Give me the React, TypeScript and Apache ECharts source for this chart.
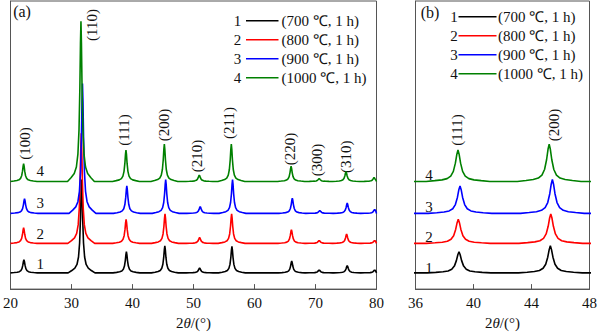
import React, { useEffect, useRef } from 'react';
import * as echarts from 'echarts';

const FONT = "'Liberation Serif', 'Times New Roman', serif";

// sample numbers and legend texts
const sampleNumbers = ['1', '2', '3', '4'];
const sampleLabels = ['(700 ℃, 1 h)', '(800 ℃, 1 h)', '(900 ℃, 1 h)', '(1000 ℃, 1 h)'];
const sampleColors = ['#000000', '#ff0000', '#0000ff', '#008000'];

// vertical offset of each pattern (a.u.)
const baselines = [16.5, 46.5, 77, 109.5];

// reflections
const hklLabels = ['(100)', '(110)', '(111)', '(200)', '(210)', '(211)', '(220)', '(300)', '(310)', ''];

// peak positions (2θ, °) per sample
const peakPos1 = [22.2, 31.65, 39.0, 45.3, 51.0, 56.3, 66.1, 70.6, 75.2, 79.7];
const peakPos2 = [22.15, 31.6, 38.95, 45.33, 51.0, 56.25, 66.05, 70.6, 75.1, 79.7];
const peakPos3 = [22.3, 31.8, 39.07, 45.44, 51.1, 56.4, 66.2, 70.7, 75.2, 79.7];
const peakPos4 = [22.15, 31.55, 38.93, 45.22, 50.95, 56.2, 66.0, 70.6, 75.0, 79.6];

// peak heights above baseline (a.u.) per sample
const peakH1 = [13.5, 95, 21.5, 27.5, 5, 27, 12, 3, 7.5, 3];
const peakH2 = [16, 112, 24.5, 30, 6, 30, 14, 3, 9.5, 3];
const peakH3 = [15, 132, 28, 34.5, 7, 34.5, 15.5, 3, 10.5, 4];
const peakH4 = [18, 163, 32, 38, 6.5, 38, 15.5, 3, 10, 4];

// measured line profile shape: offset from peak centre (°) and relative height
const profileOffset = [-2.2, -1.6, -1.1, -0.75, -0.5, -0.32, -0.18, -0.08, 0, 0.08, 0.18, 0.32, 0.5, 0.75, 1.1, 1.6, 2.2];
const profileFrac = [0, 0.025, 0.05, 0.09, 0.17, 0.32, 0.58, 0.86, 1, 0.86, 0.58, 0.32, 0.17, 0.09, 0.05, 0.025, 0];

const peakPositions = [peakPos1, peakPos2, peakPos3, peakPos4];
const peakHeights = [peakH1, peakH2, peakH3, peakH4];

function buildPattern(i: number): number[][] {
  const base = baselines[i];
  const pts: number[][] = [[20, base]];
  peakPositions[i].forEach((p, k) => {
    const h = peakHeights[i][k];
    profileOffset.forEach((o, j) => {
      const x = p + o;
      if (x > 20 && x < 80) pts.push([x, base + h * profileFrac[j]]);
    });
  });
  pts.push([80, base]);
  return pts;
}

export default function App() {
  const ref = useRef<HTMLDivElement>(null);
  useEffect(() => {
    if (!ref.current) return;
    const chart = echarts.init(ref.current, undefined, { renderer: 'svg' });
    const axisColor = '#555';
    const nameRich = {
      it: { fontStyle: 'italic', fontFamily: FONT, fontSize: 15, color: '#111' },
    };
    const makeX = (grid: number, min: number, max: number, interval: number) => ({
      type: 'value',
      gridIndex: grid,
      min,
      max,
      interval,
      axisLine: { show: true, lineStyle: { color: axisColor, width: 1 } },
      axisTick: { show: true, inside: true, length: 5, lineStyle: { color: axisColor } },
      axisLabel: { fontFamily: FONT, fontSize: 15, color: '#111', margin: 6 },
      splitLine: { show: false },
      name: '2{it|θ}/(°)',
      nameLocation: 'middle',
      nameGap: 23,
      nameTextStyle: { fontFamily: FONT, fontSize: 15, color: '#111', rich: nameRich },
    });
    const makeY = (grid: number) => ({
      type: 'value',
      gridIndex: grid,
      min: 0,
      max: 293,
      axisLine: { show: true, lineStyle: { color: axisColor, width: 1 } },
      axisTick: { show: false },
      axisLabel: { show: false },
      splitLine: { show: false },
    });

    const series: any[] = [];
    [0, 1].forEach((g) => {
      sampleNumbers.forEach((n, i) => {
        series.push({
          type: 'line',
          name: n,
          xAxisIndex: g,
          yAxisIndex: g,
          data: buildPattern(i),
          showSymbol: false,
          symbol: 'none',
          clip: true,
          lineStyle: { color: sampleColors[i], width: 1.6 },
          itemStyle: { color: sampleColors[i] },
        });
      });
    });

    const textStyle = (text: string, size = 15) => ({
      text,
      fontFamily: FONT,
      fontSize: size,
      fill: '#111',
      align: 'center',
      verticalAlign: 'middle',
    });

    const graphic: any[] = [];
    // panel tags
    graphic.push({ type: 'text', x: 22, y: 11, style: textStyle('(a)', 16) });
    graphic.push({ type: 'text', x: 430, y: 12.5, style: textStyle('(b)', 16) });

    // hkl labels (panel a)
    const hklA = [
      [25, 143.5], [91.7, 25], [124, 130], [164.3, 125], [196.7, 156], [229.3, 123], [290, 149], [317.3, 160], [346, 156.7],
    ];
    hklA.forEach((p, k) => {
      graphic.push({ type: 'text', x: p[0], y: p[1], rotation: Math.PI / 2, style: textStyle(hklLabels[k]) });
    });
    // hkl labels (panel b)
    graphic.push({ type: 'text', x: 457.3, y: 130, rotation: Math.PI / 2, style: textStyle(hklLabels[2]) });
    graphic.push({ type: 'text', x: 554, y: 125, rotation: Math.PI / 2, style: textStyle(hklLabels[3]) });

    // sample numbers next to patterns
    const numYA = [264, 234, 203, 170.7];
    const numYB = [268.3, 237.3, 207.3, 175];
    sampleNumbers.forEach((n, i) => {
      graphic.push({ type: 'text', x: 40.3, y: numYA[i], style: textStyle(n) });
      graphic.push({ type: 'text', x: 429, y: numYB[i], style: textStyle(n) });
    });

    // legends
    const legends = [
      { numX: 237.5, x1: 246, x2: 278.5, tx: 281.5, y0: 20.7 },
      { numX: 454, x1: 458.5, x2: 496.5, tx: 498, y0: 16.7 },
    ];
    legends.forEach((L) => {
      sampleNumbers.forEach((n, i) => {
        const y = L.y0 + i * 19;
        graphic.push({ type: 'text', x: L.numX, y, style: textStyle(n) });
        graphic.push({
          type: 'line',
          shape: { x1: L.x1, y1: y, x2: L.x2, y2: y },
          style: { stroke: sampleColors[i], lineWidth: 1.6 },
        });
        graphic.push({
          type: 'text',
          x: L.tx,
          y,
          style: { ...textStyle(sampleLabels[i]), align: 'left' },
        });
      });
    });

    chart.setOption({
      animation: false,
      backgroundColor: '#ffffff',
      textStyle: { fontFamily: FONT },
      grid: [
        { left: 8, top: 1, width: 368.5, height: 293, show: true, borderColor: axisColor, borderWidth: 1, backgroundColor: 'transparent' },
        { left: 415.5, top: 1, width: 179, height: 293, show: true, borderColor: axisColor, borderWidth: 1, backgroundColor: 'transparent' },
      ],
      xAxis: [makeX(0, 20, 80, 10), makeX(1, 36, 48, 4)],
      yAxis: [makeY(0), makeY(1)],
      series,
      graphic,
    });
    return () => chart.dispose();
  }, []);
  return <div ref={ref} style={{ position: 'absolute', left: 0, top: 0, width: 600, height: 335 }} />;
}
